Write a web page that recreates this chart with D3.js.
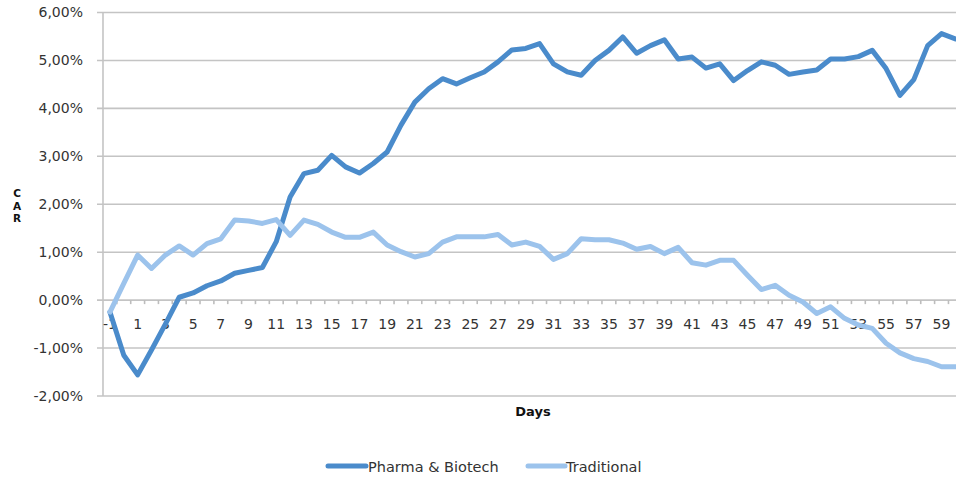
<!DOCTYPE html>
<html>
<head>
<meta charset="utf-8">
<script src="https://cdn.jsdelivr.net/npm/d3@7"></script>
<style>
  html, body { margin: 0; padding: 0; background: #fff; }
  svg { display: block; }
  text { font-family: "DejaVu Sans", Verdana, sans-serif; }
</style>
</head>
<body>
<svg id="chart" width="956" height="477"></svg>
<script>
const days = d3.range(-1, 61);
const pharma = [
  -0.25, -1.15, -1.56, -1.04, -0.50, 0.06, 0.15, 0.30, 0.40, 0.56,
  0.62, 0.68, 1.22, 2.15, 2.64, 2.71, 3.02, 2.78, 2.65, 2.85,
  3.09, 3.65, 4.13, 4.41, 4.62, 4.51, 4.64, 4.76, 4.97, 5.22,
  5.25, 5.35, 4.93, 4.76, 4.69, 5.00, 5.21, 5.49, 5.15, 5.31,
  5.43, 5.03, 5.07, 4.84, 4.93, 4.58, 4.79, 4.97, 4.90, 4.71,
  4.76, 4.80, 5.03, 5.03, 5.08, 5.21, 4.83, 4.27, 4.60, 5.31,
  5.56, 5.45
];
const traditional = [
  -0.25, 0.35, 0.94, 0.66, 0.94, 1.13, 0.94, 1.18, 1.28, 1.67,
  1.65, 1.60, 1.68, 1.35, 1.67, 1.58, 1.42, 1.31, 1.31, 1.42,
  1.15, 1.01, 0.90, 0.97, 1.21, 1.32, 1.32, 1.32, 1.37, 1.15,
  1.21, 1.12, 0.85, 0.97, 1.28, 1.26, 1.26, 1.19, 1.06, 1.12,
  0.97, 1.10, 0.78, 0.73, 0.83, 0.83, 0.52, 0.22, 0.31, 0.10,
  -0.04, -0.28, -0.14, -0.38, -0.52, -0.59, -0.90, -1.10, -1.22, -1.28,
  -1.39, -1.39
];
const yTicks = [-2, -1, 0, 1, 2, 3, 4, 5, 6];
const xLabelDays = days.filter(d => d % 2 !== 0);
const seriesNames = ["Pharma & Biotech", "Traditional"];
const seriesColors = ["#4a8bcb", "#9cc3ec"];

const svg = d3.select("#chart");
const plotLeft = 103, plotTop = 12.5, plotBottom = 396;
const bandW = 13.86;
const x = d3.scaleBand().domain(days).range([plotLeft, plotLeft + days.length * bandW]).paddingInner(0).paddingOuter(0);
const y = d3.scaleLinear().domain([-2, 6]).range([plotBottom, plotTop]);
const xc = d => x(d) + x.bandwidth() / 2;

const locale = d3.formatLocale({decimal: ",", thousands: ".", grouping: [3], currency: ["", ""], minus: "-"});
const fmt = v => locale.format(".2f")(v) + "%";

// gridlines
svg.append("g").selectAll("line").data(yTicks).join("line")
  .attr("x1", plotLeft - 6).attr("x2", 956)
  .attr("y1", d => y(d)).attr("y2", d => y(d))
  .attr("stroke", "#c4c4c4").attr("stroke-width", 1.6);

// y axis line
svg.append("line").attr("x1", plotLeft).attr("x2", plotLeft)
  .attr("y1", y(6)).attr("y2", y(-2))
  .attr("stroke", "#c4c4c4").attr("stroke-width", 1.6);

// y axis labels
const yAxis = d3.axisLeft(y).tickValues(yTicks).tickFormat(fmt).tickSize(0).tickPadding(20);
const gy = svg.append("g").attr("transform", `translate(${plotLeft},0)`).call(yAxis);
gy.select(".domain").remove();
gy.selectAll("text").attr("font-size", 14).attr("fill", "#333")
  .attr("font-family", "DejaVu Sans, Verdana, sans-serif");

// x axis tick marks at category boundaries
svg.append("g").selectAll("line").data(days.slice(1)).join("line")
  .attr("x1", d => x(d)).attr("x2", d => x(d))
  .attr("y1", y(0)).attr("y2", y(0) + 4)
  .attr("stroke", "#bdbdbd").attr("stroke-width", 1.6);

// x axis labels
const xAxis = d3.axisBottom(x).tickValues(xLabelDays).tickFormat(d => String(d)).tickSize(0).tickPadding(19);
const gx = svg.append("g").attr("transform", `translate(0,${y(0)})`).call(xAxis);
gx.select(".domain").remove();
gx.selectAll("text").attr("font-size", 14).attr("fill", "#333")
  .attr("font-family", "DejaVu Sans, Verdana, sans-serif");

// lines
const line = d3.line().x((d, i) => xc(days[i])).y(d => y(d));
[pharma, traditional].forEach((s, i) => {
  svg.append("path").datum(s)
    .attr("d", line)
    .attr("fill", "none")
    .attr("stroke", seriesColors[i])
    .attr("stroke-width", 5)
    .attr("stroke-linejoin", "round")
    .attr("stroke-linecap", "round");
});

// axis titles
svg.append("text").attr("x", 533).attr("y", 416)
  .attr("text-anchor", "middle").attr("font-weight", "bold").attr("font-size", 13)
  .attr("fill", "#111").text("Days");

["C", "A", "R"].forEach((ch, i) => {
  svg.append("text").attr("x", 17).attr("y", 197 + i * 12.5)
    .attr("text-anchor", "middle").attr("font-weight", "bold")
    .attr("font-size", 10.5).attr("fill", "#111").text(ch);
});

// legend
const legend = [{x1: 328, x2: 366, tx: 368}, {x1: 528, x2: 565, tx: 566}];
legend.forEach((l, i) => {
  svg.append("line").attr("x1", l.x1).attr("x2", l.x2)
    .attr("y1", 466).attr("y2", 466)
    .attr("stroke", seriesColors[i]).attr("stroke-width", 5).attr("stroke-linecap", "round");
  svg.append("text").attr("x", l.tx).attr("y", 471.5)
    .attr("font-size", 14.5).attr("fill", "#333").text(seriesNames[i]);
});
</script>
</body>
</html>
